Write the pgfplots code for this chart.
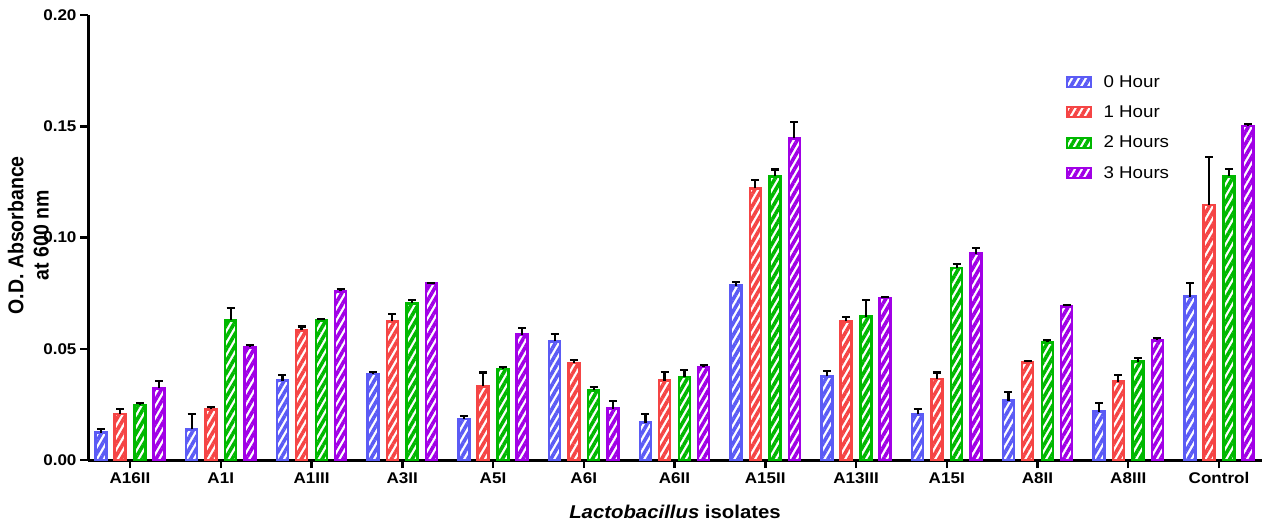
\documentclass[border=0pt]{standalone}
\usepackage{pgfplots}
\pgfplotsset{compat=1.18}
\usepackage{pgfplotstable}
\usetikzlibrary{patterns.meta}
\usepackage{fontspec}
\setmainfont{Liberation Sans}[FakeStretch=1.1]
\newfontfamily\plainfont{Liberation Sans}
\definecolor{cb}{RGB}{91,91,245}
\definecolor{cr}{RGB}{245,69,69}
\definecolor{cg}{RGB}{0,184,0}
\definecolor{cp}{RGB}{161,0,230}

\pgfplotstableread{
x  b      eb     r      er     g      eg     p      ep
0  0.0123 0.0017 0.0207 0.0023 0.0247 0.0009 0.0322 0.0033
1  0.0138 0.0067 0.0228 0.0009 0.0628 0.0054 0.0506 0.0010
2  0.0357 0.0025 0.0583 0.0017 0.0628 0.0007 0.0758 0.0009
3  0.0387 0.0010 0.0623 0.0035 0.0704 0.0015 0.0794 0.0003
4  0.0184 0.0014 0.0331 0.0062 0.0408 0.0010 0.0563 0.0032
5  0.0533 0.0033 0.0437 0.0011 0.0313 0.0015 0.0231 0.0033
6  0.0168 0.0039 0.0357 0.0039 0.0372 0.0034 0.0418 0.0009
7  0.0784 0.0016 0.1221 0.0037 0.1275 0.0031 0.1446 0.0073
8  0.0376 0.0025 0.0623 0.0018 0.0644 0.0074 0.0727 0.0007
9  0.0205 0.0024 0.0365 0.0028 0.0864 0.0017 0.0927 0.0026
10 0.0267 0.0039 0.0439 0.0007 0.0529 0.0009 0.0691 0.0006
11 0.0217 0.0039 0.0352 0.0031 0.0442 0.0018 0.0538 0.0010
12 0.0734 0.0060 0.1145 0.0217 0.1275 0.0033 0.1501 0.0009
}\data

\pgfplotsset{
  hbar/.style={ybar, bar width=11pt, bar shift=0pt, draw=#1, line width=2.5pt,
    pattern={Lines[angle=60,distance=6pt,line width=3.6pt]}, pattern color=#1,
    error bars/.cd, y dir=plus, y explicit,
    error bar style={black, line width=2.2pt},
    error mark options={black, line width=2.2pt, mark size=4pt, rotate=90}},
}

\begin{document}
\begin{tikzpicture}
\begin{axis}[name=ax, scale only axis, width=1174pt, height=445pt,
  xmin=-0.463, xmax=12.474, ymin=0, ymax=0.2,
  axis lines=left, axis line style={-, line width=3pt, black},
  xtick={0,...,12},
  xticklabels={A16II,A1I,A1III,A3II,A5I,A6I,A6II,A15II,A13III,A15I,A8II,A8III,Control},
  ytick={0,0.05,0.1,0.15,0.2},
  yticklabels={0.00,0.05,0.10,0.15,0.20},
  tick align=outside, major tick length=8pt, tick style={line width=2.5pt, black},
  ticklabel style={font=\bfseries\fontsize{15.5}{18}\selectfont},
  xticklabel style={yshift=-1pt},
  xlabel={\textit{Lactobacillus} isolates},
  xlabel style={font=\bfseries\fontsize{18.5}{22}\selectfont, at={(axis description cs:0.5,0)}, anchor=center, yshift=-52pt},
  ylabel={\scalebox{1}[1.1]{\begin{tabular}{@{}c@{}}O.D. Absorbance\\at 600 nm\end{tabular}}},
  ylabel style={font=\plainfont\bfseries\fontsize{19.5}{23}\selectfont, at={(axis description cs:-0.0486,0.505)}, anchor=center},
  legend style={at={(axis description cs:0.830,0.874)}, anchor=north west, draw=none, fill=none,
    font=\fontsize{17}{19}\selectfont, row sep=13pt,
    /tikz/every odd column/.append style={column sep=10pt}},
  legend cell align=left,
  legend image code/.code={\draw[#1, line width=2pt] (0pt,-5pt) rectangle (24pt,5pt);},
]
\addplot[hbar=cb] table[x expr=\thisrow{x}-0.32, y=b, y error=eb]{\data};
\addplot[hbar=cr] table[x expr=\thisrow{x}-0.11, y=r, y error=er]{\data};
\addplot[hbar=cg] table[x expr=\thisrow{x}+0.11, y=g, y error=eg]{\data};
\addplot[hbar=cp] table[x expr=\thisrow{x}+0.32, y=p, y error=ep]{\data};
\legend{0 Hour,1 Hour,2 Hours,3 Hours}
\end{axis}
\pgfresetboundingbox
\path ([shift={(-88pt,-65pt)}]ax.south west) rectangle ([shift={(3pt,15pt)}]ax.north east);
\end{tikzpicture}
\end{document}
